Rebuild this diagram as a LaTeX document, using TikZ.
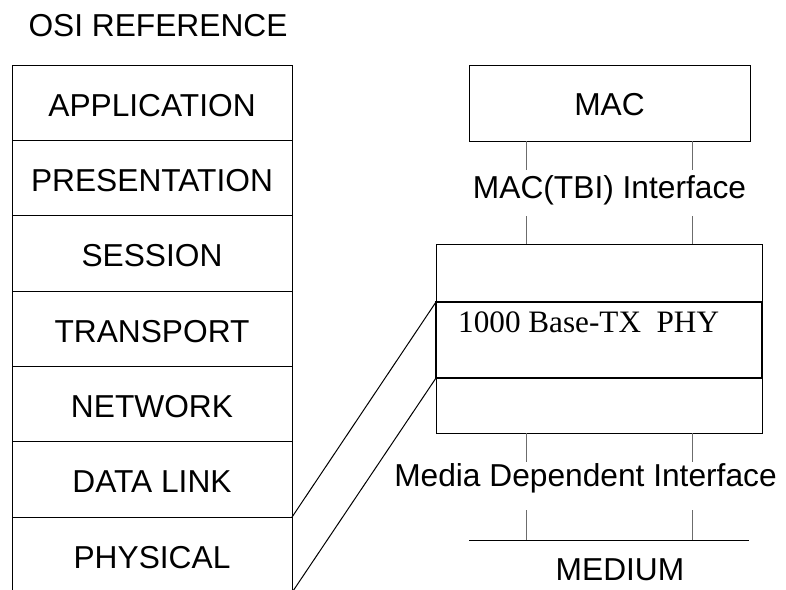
\documentclass[tikz,border=0pt]{standalone}
\usepackage{fontspec}
\setmainfont{Liberation Sans}
\newfontfamily\timesfont{Liberation Serif}
\usetikzlibrary{positioning}

\tikzset{
	layer/.style={draw, line width=1pt, minimum width=280pt, minimum height=75.35pt,
		outer sep=0pt, inner sep=0pt, text height=26.7pt, text depth=0pt,
		font=\fontsize{31.7pt}{38pt}\selectfont},
	box/.style={draw, line width=1pt, outer sep=0pt, inner sep=0pt},
	txt/.style={anchor=base, inner sep=0pt, font=\fontsize{31.7pt}{38pt}\selectfont},
	stub/.style={draw=gray!85!black, line width=1pt},
}

\begin{document}
\begin{tikzpicture}[x=1pt,y=-1pt]
	\useasboundingbox (0,0) rectangle (786,589);

	% OSI stack
	\node [txt] (osi) at (158,36) {OSI REFERENCE};
	\node [layer] (app) at (152,102.7) {APPLICATION};
	\node [layer, below=0pt of app] (pres) {PRESENTATION};
	\node [layer, below=0pt of pres] (sess) {SESSION};
	\node [layer, below=0pt of sess] (trans) {TRANSPORT};
	\node [layer, below=0pt of trans] (net) {NETWORK};
	\node [layer, below=0pt of net] (link) {DATA LINK};
	\node [layer, below=0pt of link] (phys) {PHYSICAL};

	% MAC
	\node [box, minimum width=281pt, minimum height=76pt, text height=24.7pt, text depth=0pt, font=\fontsize{31.7pt}{38pt}\selectfont] (mac) at (609.5,103) {MAC};
	\node [txt] (tbi) at (609.5,198.3) {MAC(TBI) Interface};
	\coordinate (tbiL) at (526,170);
	\coordinate (tbiR) at (692,170);
	\coordinate (tbiL2) at (526,216);
	\coordinate (tbiR2) at (692,216);

	% PHY
	\node [box, minimum width=326pt, minimum height=189pt] (phy) at (599,338.5) {};
	\node [box, line width=2pt, minimum width=326pt, minimum height=76pt] (core) at (599,340) {};
	\node [txt, anchor=base west, font=\timesfont\fontsize{31.2pt}{38pt}\selectfont] (coretext) at (458,332.7) {1000 Base-TX\ \ PHY};
		\draw [stub] (mac.south -| tbiL) -- (tbiL);
		\draw [stub] (mac.south -| tbiR) -- (tbiR);
		\draw [stub] (tbiL2) -- (tbiL2 |- phy.north);
		\draw [stub] (tbiR2) -- (tbiR2 |- phy.north);

	% Media dependent interface
	\node [txt] (mdi) at (585.5,486) {Media Dependent Interface};
	\coordinate (mdiL) at (526,462);
	\coordinate (mdiR) at (692,462);
	\coordinate (mdiL2) at (526,510);
	\coordinate (mdiR2) at (692,510);
		\draw [stub] (phy.south -| mdiL) -- (mdiL);
		\draw [stub] (phy.south -| mdiR) -- (mdiR);

	% Medium
	\coordinate (medA) at (469,540);
	\coordinate (medB) at (749,540);
	\draw [line width=1pt] (medA) -- (medB);
		\draw [stub] (mdiL2) -- (mdiL2 |- medA);
		\draw [stub] (mdiR2) -- (mdiR2 |- medA);
	\node [txt] (medium) at (620,580) {MEDIUM};

	% Physical layer links
	\draw [line width=1pt] (link.south east) -- (core.north west);
	\draw [line width=1pt] (phys.south east) -- (core.south west);
\end{tikzpicture}
\end{document}
